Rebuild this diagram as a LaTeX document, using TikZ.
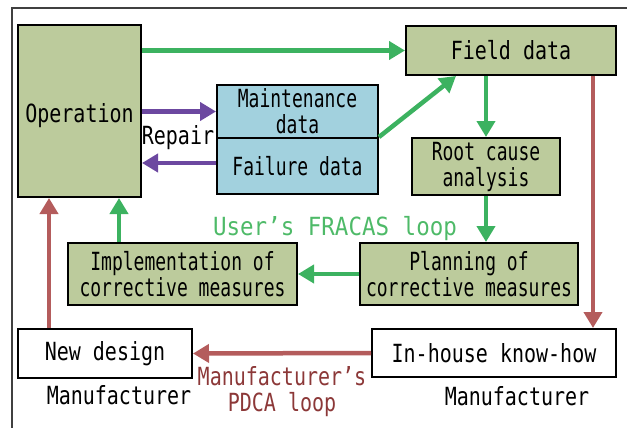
\documentclass[tikz,border=0pt]{standalone}
\usepackage{fontspec}
\setmainfont[FakeStretch=0.8]{DejaVu Sans Mono}
\newfontfamily\widemono[FakeStretch=0.9]{DejaVu Sans Mono}
\newfontfamily\narrowmono[FakeStretch=0.72]{DejaVu Sans Mono}
\usetikzlibrary{arrows.meta}
\definecolor{boxgreen}{RGB}{188,203,156}
\definecolor{boxblue}{RGB}{162,209,222}
\definecolor{lgreen}{RGB}{60,178,96}
\definecolor{lpurple}{RGB}{108,72,160}
\definecolor{lred}{RGB}{180,92,92}
\definecolor{tred}{RGB}{140,56,56}
\definecolor{tgreen}{RGB}{78,186,104}
\tikzset{
  box/.style={draw=black, line width=2pt, inner sep=0pt, align=center},
  narrowbox/.style={box, font=\txt\narrowmono},
  garrow/.style={draw=lgreen, line width=4.5pt, -{Triangle[width=18pt,length=16pt]}},
  parrow/.style={draw=lpurple, line width=4.5pt, -{Triangle[width=18pt,length=16pt]}},
  rarrow/.style={draw=lred, line width=4.5pt, -{Triangle[width=18pt,length=16pt]}}
}
\newcommand{\txt}{\fontsize{25}{26}\selectfont}
\begin{document}
\begin{tikzpicture}[x=1pt, y=-1pt, font=\txt]
        \useasboundingbox (0,0) rectangle (627,428);
        % frame
        \draw[line width=2pt, color=black!75] (12,428) -- (12,8) -- (627,8);
        % boxes
        \node[box, fill=boxgreen, minimum width=123pt, minimum height=172pt,
              label={[name=optext, yshift=-5pt]center:Operation}] (op) at (79.5,111) {};
        \node[box, fill=boxgreen, minimum width=210pt, minimum height=49pt] (fd) at (511,50.5) {Field data};
        \node[narrowbox, fill=boxblue, minimum width=161pt, minimum height=53pt] (maint) at (297.5,111.5) {Maintenance\\data};
        \node[narrowbox, fill=boxblue, minimum width=161pt, minimum height=56pt] (fail) at (297.5,166) {Failure data};
        \node[narrowbox, fill=boxgreen, minimum width=148pt, minimum height=57pt] (rc) at (486,166.5) {Root cause\\analysis};
        \node[narrowbox, fill=boxgreen, minimum width=218pt, minimum height=62pt] (plan) at (469,274) {Planning of\\corrective measures};
        \node[narrowbox, fill=boxgreen, minimum width=229pt, minimum height=62pt] (impl) at (182.5,274) {Implementation of\\corrective measures};
        \node[box, fill=white, minimum width=174pt, minimum height=49pt] (nd) at (105,353.5) {New design};
        \node[box, fill=white, minimum width=244pt, minimum height=48pt] (ih) at (494,353) {In-house know-how};
        % labels
        \node (repair) at (178,138) {Repair};
        \node[text=tgreen, font=\txt\widemono] (fracas) at (335,229) {User’s FRACAS loop};
        \node[text=tred, align=center] (pdca) at (282,392) {Manufacturer’s\\PDCA loop};
        \node (mfl) at (119,395) {Manufacturer};
        \node (mfr) at (517,396) {Manufacturer};
        % green loop
        \draw[garrow] (op.east |- fd.west) -- (fd.west);
        \draw[garrow] (fail.north east) -- ([xshift=51pt]fd.south west);
        \draw[garrow] (fd.south -| rc.north) -- (rc.north);
        \draw[garrow] (rc.south) -- (rc.south |- plan.north);
        \draw[garrow] (plan.west) -- (impl.east);
        \draw[garrow] ([xshift=-63.5pt]impl.north) -- ([xshift=-63.5pt]impl.north |- op.south);
        % repair
        \draw[parrow] (op.east |- maint.west) -- (maint.west);
        \draw[parrow] ([yshift=3pt]fail.west) -- ([yshift=3pt]fail.west -| op.east);
        % red loop
        \draw[rarrow] ([xshift=82pt]fd.south) -- ([xshift=82pt]fd.south |- ih.north);
        \draw[rarrow] (ih.west) -- (nd.east);
        \draw[rarrow] ([xshift=-56pt]nd.north) -- ([xshift=-56pt]nd.north |- op.south);
\end{tikzpicture}
\end{document}
